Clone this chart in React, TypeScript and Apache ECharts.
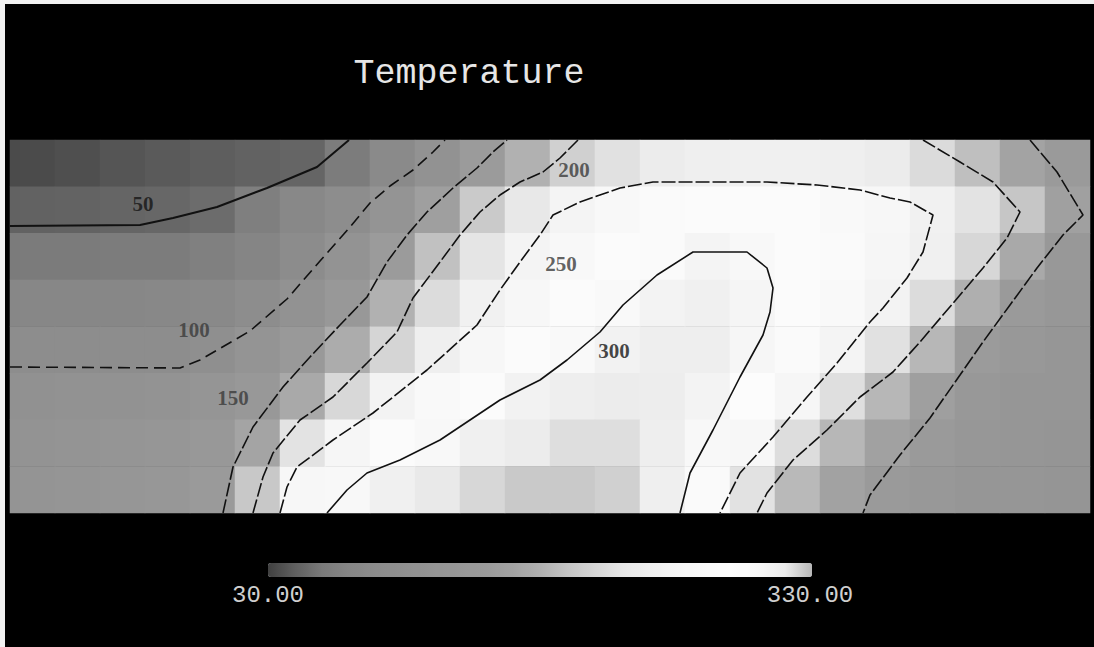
import React, { useEffect, useRef } from "react";
import * as echarts from "echarts";

// ---- grid of temperature samples, rows listed top to bottom ----
const columnNames = ["c0","c1","c2","c3","c4","c5","c6","c7","c8","c9","c10","c11","c12","c13","c14","c15","c16","c17","c18","c19","c20","c21","c22","c23"];
const rowNames = ["r0","r1","r2","r3","r4","r5","r6","r7"]; // bottom to top on the axis

const tempRow0 = [35, 37, 40, 42, 44, 46, 48, 63, 85, 113, 150, 181, 205, 220, 235, 240, 242, 242, 240, 235, 215, 191, 166, 145];
const tempRow1 = [46, 47, 48, 49, 52, 66, 80, 95, 122, 158, 200, 228, 253, 265, 275, 280, 280, 278, 272, 262, 246, 222, 197, 160];
const tempRow2 = [61, 61, 62, 62, 67, 74, 89, 117, 150, 193, 224, 252, 265, 279, 292, 305, 300, 287, 273, 260, 242, 211, 173, 140];
const tempRow3 = [77, 77, 78, 79, 83, 95, 112, 140, 181, 216, 244, 263, 280, 297, 306, 310, 304, 289, 269, 250, 216, 179, 145, 135];
const tempRow4 = [94, 94, 94, 95, 100, 120, 143, 176, 209, 241, 263, 280, 297, 308, 313, 313, 302, 277, 253, 220, 185, 150, 138, 130];
const tempRow5 = [110, 112, 114, 118, 125, 140, 173, 212, 250, 269, 289, 308, 313, 315, 314, 306, 286, 257, 218, 185, 158, 140, 132, 128];
const tempRow6 = [118, 120, 124, 130, 140, 167, 222, 258, 280, 300, 310, 315, 319, 319, 313, 300, 262, 217, 185, 162, 145, 135, 130, 126];
const tempRow7 = [122, 124, 128, 133, 145, 198, 263, 300, 310, 316, 321, 325, 325, 323, 311, 276, 221, 187, 165, 148, 138, 132, 128, 125];
const tempRowsTopDown = [tempRow0, tempRow1, tempRow2, tempRow3, tempRow4, tempRow5, tempRow6, tempRow7];

const tempMin = 30;
const tempMax = 330;
const grayRamp = ["#404040", "#606060", "#7a7a7a", "#868686", "#8c8c8c", "#909090", "#949494", "#979797", "#9b9b9b", "#a2a2a2", "#b0b0b0", "#c4c4c4", "#d6d6d6", "#e6e6e6", "#efefef", "#f5f5f5", "#f9f9f9", "#fcfcfc", "#f8f8f8", "#ececec", "#b8b8b8"];

// ---- contour lines [x, y] in plot units (x 0..108, y 0..37.3) ----
const contour50 = [[0, 28.7], [13, 28.8], [16.3, 29.5], [20.7, 30.6], [25.7, 32.5], [30.7, 34.6], [33.9, 37.3]];
const contour100 = [[0, 14.6], [17, 14.5], [19, 15.3], [24, 18.2], [27.7, 21.4], [31, 25.2], [34, 28.6], [36, 31], [38, 32.7], [40.3, 34.3], [42.3, 36.1], [43.5, 37.3]];
const contour150West = [[21.3, 0], [22.3, 4.6], [24.3, 8.6], [27.3, 12.6], [30, 15.6], [33, 18.8], [35.7, 21.6], [37.7, 25.1], [39.7, 27.8], [41.7, 30.1], [44.3, 32.5], [46.7, 34.5], [48.3, 36.1], [49.7, 37.3]];
const contour200West = [[24.3, 0], [25.3, 3.6], [26.3, 6], [29, 9.3], [32.3, 11.6], [35.7, 15], [38.7, 18.1], [40.3, 21.5], [43, 25.1], [45, 27.8], [47, 30.1], [49, 31.8], [51, 33.1], [53.3, 34.1], [55, 35.5], [56.8, 37.3]];
const contour250 = [[27, 0], [27.7, 2.6], [28.7, 4.6], [32.3, 7.3], [36.3, 10], [41.7, 14.3], [46.7, 18.8], [49, 22.3], [51, 25.1], [53, 27.8], [54.3, 29.8], [57, 31.1], [61, 32.5], [64.3, 33.1], [68, 33.1], [75.7, 33.1], [80.7, 32.8], [85, 32.3], [88, 31.5], [90, 31.1], [92.3, 29.8], [91.3, 26.1], [89.7, 23.5], [87.3, 20.5], [86, 19.1], [82.7, 15], [79.7, 11.6], [76.3, 7.6], [73, 4], [71, 0]];
const contour300 = [[31.7, 0], [33.7, 2.3], [35.7, 4], [39, 5.3], [43, 7.3], [49, 11.3], [53, 13.3], [55.7, 15.3], [59, 18.1], [61.3, 20.8], [64.7, 23.8], [68.3, 26.1], [73.7, 26.1], [75.7, 24.5], [76.3, 22.5], [76, 20.1], [75.3, 17.8], [73, 13.6], [70.3, 8.3], [68, 4], [67, 0]];
const contour200East = [[91.3, 37.3], [95, 35.1], [98.3, 33.1], [101, 30.1], [99.7, 27.5], [97.3, 24.5], [95, 21.8], [91, 17.1], [88.3, 14.1], [85, 11.6], [81.7, 8.3], [78.3, 5.3], [75.7, 2], [74.7, 0]];
const contour150East = [[102, 37.3], [104.7, 34.1], [107.3, 29.8], [105.3, 27.8], [102.7, 24.5], [100, 20.8], [97.3, 17.1], [95, 13.8], [92, 9.5], [89, 5.8], [86, 1.8], [85.3, 0]];

const contourLevels = [50, 100, 150, 200, 250, 300];
const labelX = [13.3, 18.4, 22.3, 56.4, 55.1, 60.4];
const labelY = [30.9, 18.3, 11.5, 34.3, 24.9, 16.2];

const titleText = "Temperature";

function buildHeatmap() {
  const data: number[][] = [];
  tempRowsTopDown.forEach((row, r) => {
    row.forEach((v, c) => {
      data.push([c, tempRowsTopDown.length - 1 - r, v]);
    });
  });
  return data;
}

function contourSeries(points: number[][], dash: any, width: number) {
  return {
    type: "line",
    xAxisIndex: 1,
    yAxisIndex: 1,
    data: points,
    symbol: "none",
    silent: true,
    z: 5,
    lineStyle: { color: "#111111", width, type: dash },
  };
}

export default function App() {
  const ref = useRef<HTMLDivElement>(null);
  useEffect(() => {
    const chart = echarts.init(ref.current!, null, { renderer: "svg" });
    const option: any = {
      animation: false,
      backgroundColor: "#000000",
      grid: { left: 10, top: 140, width: 1080, height: 373 },
      xAxis: [
        { type: "category", data: columnNames, show: false, gridIndex: 0 },
        { type: "value", min: 0, max: 108, show: false, gridIndex: 0 },
      ],
      yAxis: [
        { type: "category", data: rowNames, show: false, gridIndex: 0 },
        { type: "value", min: 0, max: 37.3, show: false, gridIndex: 0 },
      ],
      visualMap: {
        type: "continuous",
        min: tempMin,
        max: tempMax,
        seriesIndex: 0,
        orient: "horizontal",
        left: 268,
        top: 563,
        itemWidth: 14,
        itemHeight: 544,
        padding: 0,
        calculable: false,
        hoverLink: false,
        inRange: { color: grayRamp },
      },
      graphic: [
        { type: "rect", shape: { x: 0, y: 0, width: 1094, height: 4 }, style: { fill: "#f2f2f2" } },
        { type: "rect", shape: { x: 0, y: 0, width: 5, height: 647 }, style: { fill: "#f2f2f2" } },
        {
          type: "text",
          x: 469,
          y: 74,
          style: {
            text: titleText,
            fill: "#e6e6e6",
            font: "normal 35px 'Liberation Mono', 'DejaVu Sans Mono', monospace",
            textAlign: "center",
            textVerticalAlign: "middle",
          },
        },
        {
          type: "text",
          x: 268,
          y: 595,
          style: {
            text: tempMin.toFixed(2),
            fill: "#cfcfcf",
            font: "normal 24px 'Liberation Mono', 'DejaVu Sans Mono', monospace",
            textAlign: "center",
            textVerticalAlign: "middle",
          },
        },
        {
          type: "text",
          x: 810,
          y: 595,
          style: {
            text: tempMax.toFixed(2),
            fill: "#cfcfcf",
            font: "normal 24px 'Liberation Mono', 'DejaVu Sans Mono', monospace",
            textAlign: "center",
            textVerticalAlign: "middle",
          },
        },
      ],
      series: [
        {
          type: "heatmap",
          xAxisIndex: 0,
          yAxisIndex: 0,
          data: buildHeatmap(),
          silent: true,
          itemStyle: { borderWidth: 0 },
        },
        contourSeries(contour50, "solid", 2),
        contourSeries(contour100, [12, 6], 1.6),
        contourSeries(contour150West, [14, 3], 1.6),
        contourSeries(contour150East, [14, 3], 1.6),
        contourSeries(contour200West, [14, 3], 1.6),
        contourSeries(contour200East, [14, 3], 1.6),
        contourSeries(contour250, [14, 3], 1.6),
        contourSeries(contour300, "solid", 1.6),
        {
          type: "scatter",
          xAxisIndex: 1,
          yAxisIndex: 1,
          symbolSize: 1,
          silent: true,
          z: 6,
          itemStyle: { color: "rgba(0,0,0,0)" },
          data: contourLevels.map((lv, i) => ({
            value: [labelX[i], labelY[i]],
            name: String(lv),
            label: {
              show: true,
              position: "inside",
              formatter: String(lv),
              color: lv === 50 || lv === 300 ? "#151515" : "#3a3a3a",
              fontFamily: "'Liberation Serif', serif",
              fontSize: 21,
              fontWeight: "bold",
            },
          })),
        },
      ],
    };
    chart.setOption(option);
    return () => chart.dispose();
  }, []);
  return (
    <div
      ref={ref}
      style={{ position: "absolute", left: 0, top: 0, width: 1094, height: 647 }}
    />
  );
}
